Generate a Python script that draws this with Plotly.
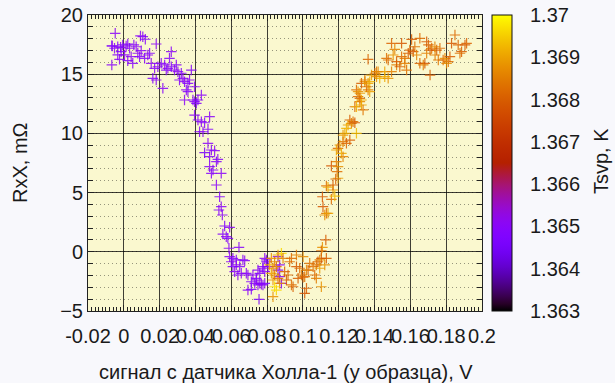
import math
import plotly.graph_objects as go

# Hall-sensor signal (V), longitudinal resistance RxX (mOhm), sample temperature Tsvp (K)
# descending branch, lower temperature
cold_x = [-0.0048, -0.0065, -0.0067, -0.0067, -0.0052, -0.0034, -0.0018, -0.0006, 0.0013, 0.0022,
          0.0032, 0.0056, 0.0069, -0.0015, 0.0004, -0.0034, -0.0024, 0.0022, 0.0041, 0.0050,
          0.0078, 0.0088, 0.0097, 0.0116, 0.0134, 0.0144, 0.0181, 0.0106, 0.0093, 0.0120,
          0.0153, 0.0172, 0.0190, 0.0209, 0.0228, 0.0237, 0.0246, 0.0265, 0.0283, 0.0293,
          0.0302, 0.0321, 0.0330, 0.0311, 0.0339, 0.0358, 0.0367, 0.0377, 0.0349, 0.0358,
          0.0395, 0.0218, 0.0181, 0.0162, 0.0265, 0.0255, 0.0433, 0.0386, 0.0395, 0.0414,
          0.0339, 0.0405, 0.0395, 0.0414, 0.0433, 0.0451, 0.0479, 0.0423, 0.0442, 0.0470,
          0.0470, 0.0489, 0.0507, 0.0451, 0.0479, 0.0525, 0.0517, 0.0479, 0.0498, 0.0544,
          0.0489, 0.0517, 0.0535, 0.0544, 0.0531, 0.0550, 0.0563, 0.0591, 0.0553, 0.0572,
          0.0581, 0.0587, 0.0643, 0.0591, 0.0609, 0.0600, 0.0628, 0.0675, 0.0647, 0.0619,
          0.0684, 0.0721, 0.0740, 0.0759, 0.0777, 0.0693, 0.0712, 0.0755, 0.0749, 0.0777,
          0.0796, 0.0759, 0.0787, 0.0665, 0.0628, 0.0609, 0.0656, 0.0637, 0.0693, 0.0712,
          0.0731, 0.0749, 0.0768, 0.0787, 0.0740, 0.0777, 0.0787, 0.0796, 0.0805, 0.0861,
          0.0870, 0.0861, 0.0870, 0.0880]
cold_y = [18.45, 17.38, 15.78, 17.40, 17.19, 17.32, 17.27, 17.47, 17.38, 17.55,
          17.19, 17.47, 17.32, 16.90, 16.63, 16.63, 16.26, 16.14, 16.48, 15.92,
          16.77, 16.48, 16.99, 16.34, 16.62, 16.77, 17.55, 18.17, 18.23, 17.95,
          15.92, 15.50, 15.63, 15.92, 15.78, 15.35, 15.50, 15.63, 15.35, 15.78,
          15.21, 15.08, 14.65, 14.51, 14.37, 14.23, 14.51, 15.35, 13.67, 13.52,
          13.94, 13.81, 14.51, 14.65, 16.90, 16.34, 13.24, 12.82, 12.68, 12.82,
          12.82, 12.54, 11.55, 11.13, 10.99, 10.90, 11.41, 10.14, 10.14, 10.35,
          9.16, 8.60, 8.54, 8.37, 8.03, 7.81, 7.61, 7.19, 6.91, 6.63,
          6.63, 5.64, 4.65, 3.81, 3.53, 3.11, 2.18, 2.07, 1.50, 1.28,
          1.14, 0.30, 0.38, -0.41, -0.55, -0.84, -0.69, -0.75, -1.26, -1.68,
          -1.82, -1.96, -2.24, -2.66, -2.80, -3.23, -3.17, -4.01, -1.54, -1.26,
          -0.69, -1.82, -1.68, -0.69, -1.11, -1.26, -1.82, -1.96, -1.96, -2.53,
          -2.66, -2.80, -2.74, -2.66, -2.38, -1.39, -0.55, -0.84, -1.26, -0.41,
          -1.11, -1.54, -2.10, -2.66]
cold_t = [1.3650, 1.3648, 1.3650, 1.3649, 1.3650, 1.3648, 1.3650, 1.3649, 1.3650, 1.3648,
          1.3650, 1.3649, 1.3650, 1.3648, 1.3650, 1.3649, 1.3650, 1.3648, 1.3650, 1.3649,
          1.3650, 1.3648, 1.3650, 1.3649, 1.3650, 1.3648, 1.3650, 1.3649, 1.3650, 1.3648,
          1.3650, 1.3649, 1.3650, 1.3648, 1.3650, 1.3649, 1.3650, 1.3648, 1.3650, 1.3649,
          1.3650, 1.3648, 1.3650, 1.3649, 1.3650, 1.3648, 1.3650, 1.3649, 1.3650, 1.3648,
          1.3650, 1.3649, 1.3650, 1.3648, 1.3650, 1.3649, 1.3650, 1.3648, 1.3650, 1.3649,
          1.3650, 1.3648, 1.3650, 1.3649, 1.3650, 1.3648, 1.3650, 1.3649, 1.3650, 1.3648,
          1.3650, 1.3649, 1.3650, 1.3645, 1.3648, 1.3650, 1.3649, 1.3650, 1.3648, 1.3650,
          1.3649, 1.3650, 1.3648, 1.3650, 1.3649, 1.3650, 1.3648, 1.3650, 1.3649, 1.3650,
          1.3648, 1.3650, 1.3649, 1.3650, 1.3648, 1.3650, 1.3649, 1.3650, 1.3648, 1.3650,
          1.3649, 1.3650, 1.3648, 1.3650, 1.3649, 1.3650, 1.3648, 1.3646, 1.3650, 1.3649,
          1.3650, 1.3648, 1.3650, 1.3649, 1.3650, 1.3648, 1.3650, 1.3649, 1.3650, 1.3648,
          1.3650, 1.3649, 1.3650, 1.3648, 1.3650, 1.3649, 1.3650, 1.3648, 1.3650, 1.3649,
          1.3650, 1.3648, 1.3650, 1.3649]

# ascending branch, higher temperature
warm_x = [0.0824, 0.0842, 0.0814, 0.0833, 0.0852, 0.0824, 0.0842, 0.0833, 0.0861, 0.0870,
          0.0842, 0.0852, 0.0833, 0.0880, 0.0889, 0.0861, 0.0898, 0.0917, 0.0908, 0.0936,
          0.0945, 0.0926, 0.0964, 0.0982, 0.0992, 0.0973, 0.1010, 0.1029, 0.1057, 0.1084,
          0.1103, 0.1066, 0.1075, 0.1020, 0.1010, 0.1103, 0.1038, 0.1001, 0.0964, 0.0936,
          0.1094, 0.1131, 0.1122, 0.1075, 0.1020, 0.1001, 0.1094, 0.1128, 0.1109, 0.1103,
          0.1168, 0.1159, 0.1109, 0.1112, 0.1131, 0.1140, 0.1122, 0.1168, 0.1131, 0.1140,
          0.1178, 0.1187, 0.1159, 0.1196, 0.1191, 0.1196, 0.1183, 0.1234, 0.1224, 0.1299,
          0.1262, 0.1224, 0.1243, 0.1206, 0.1196, 0.1187, 0.1215, 0.1224, 0.1262, 0.1280,
          0.1271, 0.1252, 0.1290, 0.1243, 0.1318, 0.1290, 0.1327, 0.1336, 0.1299, 0.1318,
          0.1308, 0.1327, 0.1364, 0.1373, 0.1346, 0.1373, 0.1355, 0.1383, 0.1411, 0.1457,
          0.1429, 0.1476, 0.1402, 0.1420, 0.1457, 0.1495, 0.1327, 0.1308, 0.1299, 0.1364,
          0.1476, 0.1523, 0.1541, 0.1579, 0.1495, 0.1551, 0.1513, 0.1467, 0.1504, 0.1523,
          0.1569, 0.1551, 0.1588, 0.1597, 0.1625, 0.1616, 0.1635, 0.1607, 0.1653, 0.1691,
          0.1701, 0.1719, 0.1710, 0.1747, 0.1738, 0.1765, 0.1756, 0.1783, 0.1793, 0.1812,
          0.1821, 0.1653, 0.1681, 0.1672, 0.1710, 0.1849, 0.1830, 0.1867, 0.1905, 0.1886,
          0.1877, 0.1914, 0.1737, 0.1569, 0.1691, 0.1802, 0.1346, 0.1364, 0.1318, 0.1411]
warm_y = [-0.55, -0.84, -1.11, -1.39, -1.26, -1.82, -1.96, -2.38, -2.24, -2.66,
          -2.95, -3.23, -3.79, -0.13, -0.55, -0.27, -1.68, -1.96, -2.38, -2.80,
          -2.95, -0.84, -1.26, -1.39, -1.96, -2.24, -2.10, -1.54, -1.26, -0.84,
          -0.55, -1.96, -2.24, -3.08, -3.51, -2.95, -0.97, -0.41, -0.27, -0.55,
          -0.69, -0.55, -1.11, -1.11, -1.54, -2.15, -1.39, 1.00, 0.38, 0.09,
          5.22, 4.43, 4.65, 3.81, 3.25, 3.25, 3.11, 5.64, 5.56, 5.45,
          4.71, 7.61, 7.25, 7.19, 6.77, 6.21, 6.15, 10.01, 9.86, 10.01,
          9.44, 9.30, 9.16, 9.02, 8.74, 8.60, 8.32, 8.03, 11.13, 10.99,
          10.85, 10.71, 10.90, 10.43, 12.68, 12.25, 12.40, 11.98, 13.67, 13.39,
          13.10, 12.82, 13.67, 13.52, 14.37, 14.37, 13.94, 14.93, 15.21, 15.21,
          14.65, 14.65, 15.08, 15.21, 14.79, 15.21, 14.23, 13.52, 12.25, 16.26,
          16.20, 15.78, 15.63, 15.35, 17.61, 17.61, 17.10, 16.34, 16.62, 16.06,
          15.92, 16.48, 16.77, 17.04, 17.32, 16.90, 16.62, 17.94, 18.03, 17.74,
          17.47, 17.19, 17.04, 17.04, 16.62, 17.19, 16.20, 16.20, 16.34, 16.06,
          16.48, 15.92, 15.92, 15.78, 14.93, 18.31, 17.61, 17.47, 17.47, 16.90,
          16.77, 17.61, 17.32, 16.34, 16.77, 15.92, 14.51, 14.23, 12.96, 14.79]
warm_t = [1.3688, 1.3686, 1.3691, 1.3687, 1.3684, 1.3690, 1.3686, 1.3689, 1.3683, 1.3687,
          1.3697, 1.3696, 1.3688, 1.3696, 1.3685, 1.3690, 1.3680, 1.3682, 1.3679, 1.3683,
          1.3681, 1.3683, 1.3679, 1.3682, 1.3684, 1.3680, 1.3682, 1.3679, 1.3683, 1.3681,
          1.3679, 1.3682, 1.3685, 1.3680, 1.3678, 1.3688, 1.3683, 1.3687, 1.3685, 1.3682,
          1.3686, 1.3680, 1.3688, 1.3683, 1.3686, 1.3681, 1.3689, 1.3680, 1.3688, 1.3683,
          1.3689, 1.3682, 1.3679, 1.3679, 1.3682, 1.3690, 1.3688, 1.3680, 1.3683, 1.3691,
          1.3693, 1.3685, 1.3679, 1.3688, 1.3683, 1.3690, 1.3681, 1.3691, 1.3689, 1.3693,
          1.3680, 1.3684, 1.3681, 1.3688, 1.3682, 1.3690, 1.3691, 1.3686, 1.3680, 1.3683,
          1.3685, 1.3689, 1.3679, 1.3692, 1.3687, 1.3681, 1.3690, 1.3684, 1.3683, 1.3689,
          1.3682, 1.3691, 1.3685, 1.3690, 1.3687, 1.3692, 1.3683, 1.3689, 1.3684, 1.3690,
          1.3692, 1.3688, 1.3683, 1.3687, 1.3691, 1.3685, 1.3680, 1.3688, 1.3692, 1.3681,
          1.3682, 1.3685, 1.3680, 1.3683, 1.3681, 1.3679, 1.3686, 1.3683, 1.3688, 1.3680,
          1.3685, 1.3682, 1.3679, 1.3681, 1.3683, 1.3679, 1.3686, 1.3680, 1.3682, 1.3679,
          1.3681, 1.3683, 1.3679, 1.3680, 1.3685, 1.3682, 1.3684, 1.3681, 1.3687, 1.3683,
          1.3680, 1.3681, 1.3679, 1.3685, 1.3680, 1.3682, 1.3679, 1.3681, 1.3679, 1.3680,
          1.3683, 1.3681, 1.3686, 1.3684, 1.3685, 1.3687, 1.3685, 1.3690, 1.3683, 1.3688]

x_ticks = [-0.02, 0.0, 0.02, 0.04, 0.06, 0.08, 0.1, 0.12, 0.14, 0.16, 0.18, 0.2]
x_tick_text = ["-0.02", "0", "0.02", "0.04", "0.06", "0.08", "0.1", "0.12", "0.14", "0.16", "0.18", "0.2"]
y_ticks = [-5, 0, 5, 10, 15, 20]
t_ticks = [1.363, 1.364, 1.365, 1.366, 1.367, 1.368, 1.369, 1.370]
t_tick_text = ["1.363", "1.364", "1.365", "1.366", "1.367", "1.368", "1.369", "1.37"]

T_MIN, T_MAX = 1.363, 1.370


def palette(n=41):
    """Black-blue-violet-red-yellow palette (r=sqrt(s), g=s^3, b=sin(2*pi*s))."""
    scale = []
    for i in range(n):
        s = i / (n - 1)
        r = math.sqrt(s)
        g = s ** 3
        b = max(0.0, math.sin(2 * math.pi * s))
        scale.append([s, "rgb(%d,%d,%d)" % (round(r * 255), round(g * 255), round(b * 255))])
    return scale


FONT = "Liberation Sans"
FS = 20
TXT = "#1a1a1a"

all_x = cold_x + warm_x
all_y = cold_y + warm_y
all_t = cold_t + warm_t

fig = go.Figure()
fig.add_trace(go.Scatter(
    x=all_x, y=all_y, mode="markers",
    marker=dict(
        symbol="cross-thin-open", size=7.5, opacity=0.85,
        color=all_t, colorscale=palette(), cmin=T_MIN, cmax=T_MAX,
        line=dict(width=1.2),
        colorbar=dict(
            x=(492 - 88) / 394, xanchor="left", xpad=0,
            y=0.5, yanchor="middle", ypad=0, len=1, lenmode="fraction",
            thickness=20, outlinecolor="#111", outlinewidth=1,
            tickvals=t_ticks, ticktext=t_tick_text,
            ticks="outside", ticklen=14, tickcolor="rgba(0,0,0,0)",
            tickfont=dict(family=FONT, size=FS, color=TXT),
        ),
    ),
    showlegend=False, hoverinfo="skip",
))

# separators across the colour bar at each labelled temperature
shapes = []
for tv in t_ticks[1:-1]:
    yy = (tv - T_MIN) / (T_MAX - T_MIN)
    shapes.append(dict(type="line", xref="paper", yref="paper",
                       x0=(492 - 88) / 394, x1=(512 - 88) / 394, y0=yy, y1=yy,
                       line=dict(color="rgba(0,0,0,0.75)", width=1)))

axis_common = dict(
    showline=True, linecolor="#222", linewidth=1, mirror="allticks",
    ticks="inside", ticklen=6, tickcolor="#222",
    showgrid=True, gridcolor="rgba(0,0,0,0.75)", gridwidth=1,
    zeroline=False, tickfont=dict(family=FONT, size=FS, color=TXT),
)

fig.update_xaxes(
    range=[-0.02, 0.2], tickvals=x_ticks, ticktext=x_tick_text, tickangle=0,
    ticklabelstandoff=7,
    minor=dict(dtick=0.002, tick0=0, ticks="inside", ticklen=4, tickcolor="#222", showgrid=False),
    **axis_common,
)
fig.update_yaxes(
    range=[-5, 20], tickvals=y_ticks,
    minor=dict(dtick=1, tick0=0, ticks="inside", ticklen=5, tickcolor="#222",
               showgrid=True, griddash="1px,3px", gridcolor="rgba(0,0,0,0.4)", gridwidth=1),
    **axis_common,
)

annotations = [
    dict(text="RxX, mΩ", xref="paper", yref="paper", x=(20 - 88) / 394, y=(311 - 163) / 296,
         textangle=-90, showarrow=False, xanchor="center", yanchor="middle",
         font=dict(family=FONT, size=FS, color=TXT)),
    dict(text="сигнал с датчика Холла-1 (у образца), V", xref="paper", yref="paper",
         x=(286 - 88) / 394, y=(311 - 372) / 296, showarrow=False,
         xanchor="center", yanchor="middle", font=dict(family=FONT, size=FS, color=TXT)),
    dict(text="Tsvp, K", xref="paper", yref="paper", x=(601 - 88) / 394, y=(311 - 161) / 296,
         textangle=-90, showarrow=False, xanchor="center", yanchor="middle",
         font=dict(family=FONT, size=FS, color=TXT)),
]

fig.update_layout(
    width=615, height=383,
    margin=dict(l=88, r=133, t=15, b=72, autoexpand=False),
    paper_bgcolor="#f8f8fc", plot_bgcolor="#faf8cf",
    shapes=shapes, annotations=annotations,
)

fig.write_html("out.html")
